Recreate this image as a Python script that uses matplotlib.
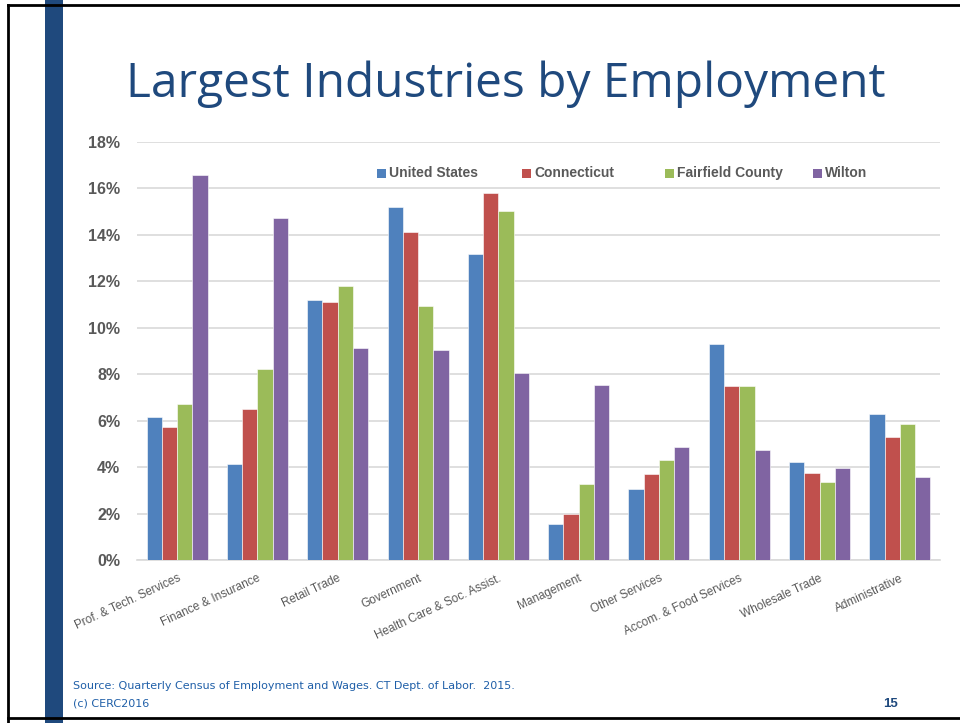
import matplotlib
matplotlib.use("Agg")
import matplotlib.pyplot as plt
import numpy as np
from matplotlib.patches import Rectangle
from matplotlib.lines import Line2D

categories = ["Prof. & Tech. Services", "Finance & Insurance", "Retail Trade",
              "Government", "Health Care & Soc. Assist.", "Management",
              "Other Services", "Accom. & Food Services", "Wholesale Trade",
              "Administrative"]
united_states = [6.17, 4.12, 11.21, 15.18, 13.17, 1.56, 3.07, 9.28, 4.20, 6.28]
connecticut = [5.74, 6.50, 11.11, 14.11, 15.79, 1.98, 3.70, 7.48, 3.76, 5.29]
fairfield_county = [6.73, 8.21, 11.81, 10.93, 15.04, 3.27, 4.30, 7.49, 3.37, 5.85]
wilton = [16.56, 14.72, 9.13, 9.03, 8.06, 7.52, 4.86, 4.75, 3.96, 3.57]
series_names = ["United States", "Connecticut", "Fairfield County", "Wilton"]
colors = ["#4F81BD", "#C0504D", "#9BBB59", "#8064A2"]
y_ticks = [0, 2, 4, 6, 8, 10, 12, 14, 16, 18]

title = "Largest Industries by Employment"
source = "Source: Quarterly Census of Employment and Wages. CT Dept. of Labor.  2015."
copyright_note = "(c) CERC2016"
page_number = "15"

W, H = 960, 723
fig = plt.figure(figsize=(W / 100, H / 100), dpi=100)
fig.patch.set_facecolor("white")

# slide frame and left accent stripe
fig.add_artist(Rectangle((45 / W, 0), 18 / W, 1, transform=fig.transFigure,
                         facecolor="#1F497D", edgecolor="none", zorder=1))
fig.add_artist(Line2D([8 / W, 8 / W], [0, 1 - 5 / H], transform=fig.transFigure,
                      color="black", lw=2, zorder=2))
fig.add_artist(Line2D([8 / W, 1], [1 - 5 / H, 1 - 5 / H], transform=fig.transFigure,
                      color="black", lw=2, zorder=2))
fig.add_artist(Line2D([8 / W, 1], [1 - 718 / H, 1 - 718 / H], transform=fig.transFigure,
                      color="black", lw=2, zorder=2))

fig.text(506 / W, 1 - 84 / H, title, ha="center", va="center",
         fontsize=34.5, color="#1F497D", family="Open Sans")

left, right = 137 / W, 940 / W
bottom, top = 1 - 560 / H, 1 - 141.8 / H
ax = fig.add_axes([left, bottom, right - left, top - bottom])

series = [united_states, connecticut, fairfield_county, wilton]
x = np.arange(len(categories))
bw = 0.19
for i, (vals, col, name) in enumerate(zip(series, colors, series_names)):
    ax.bar(x + (i - 1.5) * bw, vals, width=bw, color=col, label=name,
           edgecolor="white", linewidth=0.4, zorder=3)

ax.set_xlim(-0.5, len(categories) - 0.5)
ax.set_ylim(0, 18)
ax.set_yticks(y_ticks)
ax.set_yticklabels([f"{t}%" for t in y_ticks])
ax.yaxis.grid(True, color="#D9D9D9", lw=1.2, zorder=0)
ax.set_axisbelow(True)
for s in ["left", "right", "top"]:
    ax.spines[s].set_visible(False)
ax.spines["bottom"].set_color("#D9D9D9")
ax.spines["bottom"].set_linewidth(1.2)
ax.tick_params(axis="both", length=0)
ax.tick_params(axis="y", pad=12)
for lab in ax.get_yticklabels():
    lab.set_fontsize(11.5)
    lab.set_fontweight("bold")
    lab.set_color("#595959")
    lab.set_family("Liberation Sans")

ax.set_xticks(x)
ax.set_xticklabels(categories, rotation=25, ha="right", va="top",
                   rotation_mode="anchor", fontsize=8.5, color="#595959",
                   family="Liberation Sans")
ax.tick_params(axis="x", pad=9)

# legend row: a small swatch followed by the series name
legend_x = [377, 522, 665, 813]
legend_y = 173
sq = 9
for px, col, name in zip(legend_x, colors, series_names):
    fig.add_artist(Rectangle((px / W, 1 - (legend_y + sq / 2) / H), sq / W, sq / H,
                             transform=fig.transFigure, facecolor=col,
                             edgecolor="none", zorder=5))
    fig.text((px + sq + 3) / W, 1 - legend_y / H, name, ha="left", va="center",
             fontsize=10, fontweight="bold", color="#595959",
             family="Liberation Sans", zorder=5)

fig.text(73 / W, 1 - 686 / H, source, ha="left", va="center",
         fontsize=8, color="#1F5FA8", family="Liberation Sans Narrow")
fig.text(73 / W, 1 - 704 / H, copyright_note, ha="left", va="center",
         fontsize=8, color="#1F5FA8", family="Liberation Sans Narrow")
fig.text(890 / W, 1 - 704 / H, page_number, ha="center", va="center",
         fontsize=9.5, color="#1F497D", fontweight="bold", family="Liberation Sans")

fig.savefig("out.png", dpi=100)
